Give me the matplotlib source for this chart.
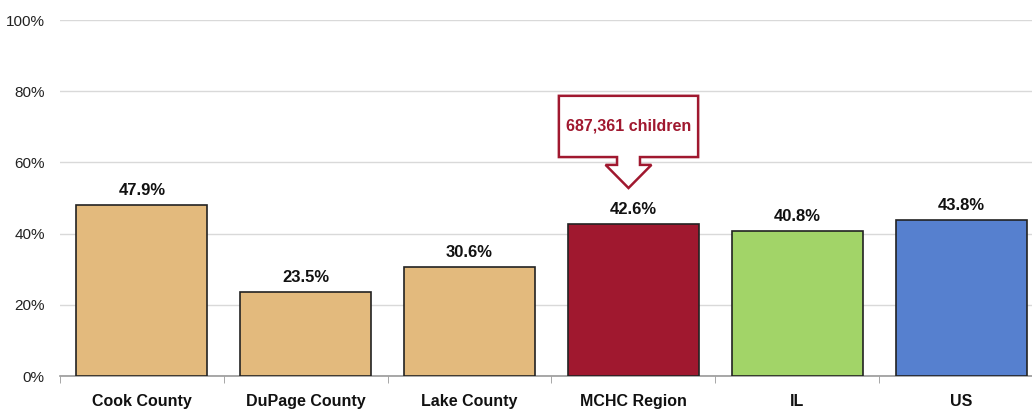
import matplotlib.pyplot as plt
from matplotlib.patches import Polygon
import numpy as np

regions = ["Cook County", "DuPage County", "Lake County", "MCHC Region", "IL", "US"]
values = [47.9, 23.5, 30.6, 42.6, 40.8, 43.8]
colors = ["#E3BA7D", "#E3BA7D", "#E3BA7D", "#A0182F", "#A2D468", "#5680CF"]
callout_text = "687,361 children"
callout_idx = 3

plt.rcParams['font.family'] = ['Liberation Sans', 'DejaVu Sans']

fig = plt.figure(figsize=(10.32, 4.11), dpi=100)
# the plot runs a little past the right edge, as in the source image
ax = fig.add_axes([60 / 1032, 35 / 411, 983 / 1032, 356 / 411])

x = np.arange(len(regions))
ax.bar(x, values, width=0.8, color=colors, edgecolor="#222222", linewidth=1.2, zorder=3)

for xi, v in zip(x, values):
    ax.text(xi, v + 2.0, f"{v:.1f}%", ha="center", va="bottom",
            fontsize=12, fontweight="bold", color="#111111", zorder=4)

ax.set_xlim(-0.5, len(regions) - 0.5)
ax.set_ylim(0, 100)
ax.set_yticks(np.arange(0, 101, 20))
ax.set_yticklabels([f"{t}%" for t in range(0, 101, 20)], fontsize=11, color="#222222")
ax.yaxis.grid(True, color="#D9D9D9", linewidth=1, zorder=0)
ax.tick_params(axis="y", length=0, pad=11)

ax.set_xticks(x)
ax.set_xticklabels(regions, fontsize=11.5, fontweight="bold", color="#111111")
ax.set_xticks(np.arange(-0.5, len(regions), 1), minor=True)
ax.tick_params(axis="x", which="major", length=0, pad=13)
ax.tick_params(axis="x", which="minor", length=5, color="#999999", direction="out")

for s in ["top", "right", "left"]:
    ax.spines[s].set_visible(False)
ax.spines["bottom"].set_color("#999999")
ax.spines["bottom"].set_linewidth(1.2)

# callout arrow above the MCHC bar
cx = callout_idx - 0.03
v = values[callout_idx]
tip = v + 10.2
head_top = tip + 6.5
box_bot = head_top + 2.2
box_top = box_bot + 17.2
bw, sw, hw = 0.425, 0.07, 0.14
pts = [(cx - bw, box_top), (cx + bw, box_top), (cx + bw, box_bot),
       (cx + sw, box_bot), (cx + sw, head_top), (cx + hw, head_top),
       (cx, tip), (cx - hw, head_top), (cx - sw, head_top),
       (cx - sw, box_bot), (cx - bw, box_bot)]
ax.add_patch(Polygon(pts, closed=True, facecolor="white", edgecolor="#A0182F",
                     linewidth=1.8, zorder=5))
ax.text(cx, (box_top + box_bot) / 2, callout_text, ha="center", va="center",
        fontsize=11.5, fontweight="bold", color="#A0182F", zorder=6)

fig.savefig("out.png", dpi=100)
